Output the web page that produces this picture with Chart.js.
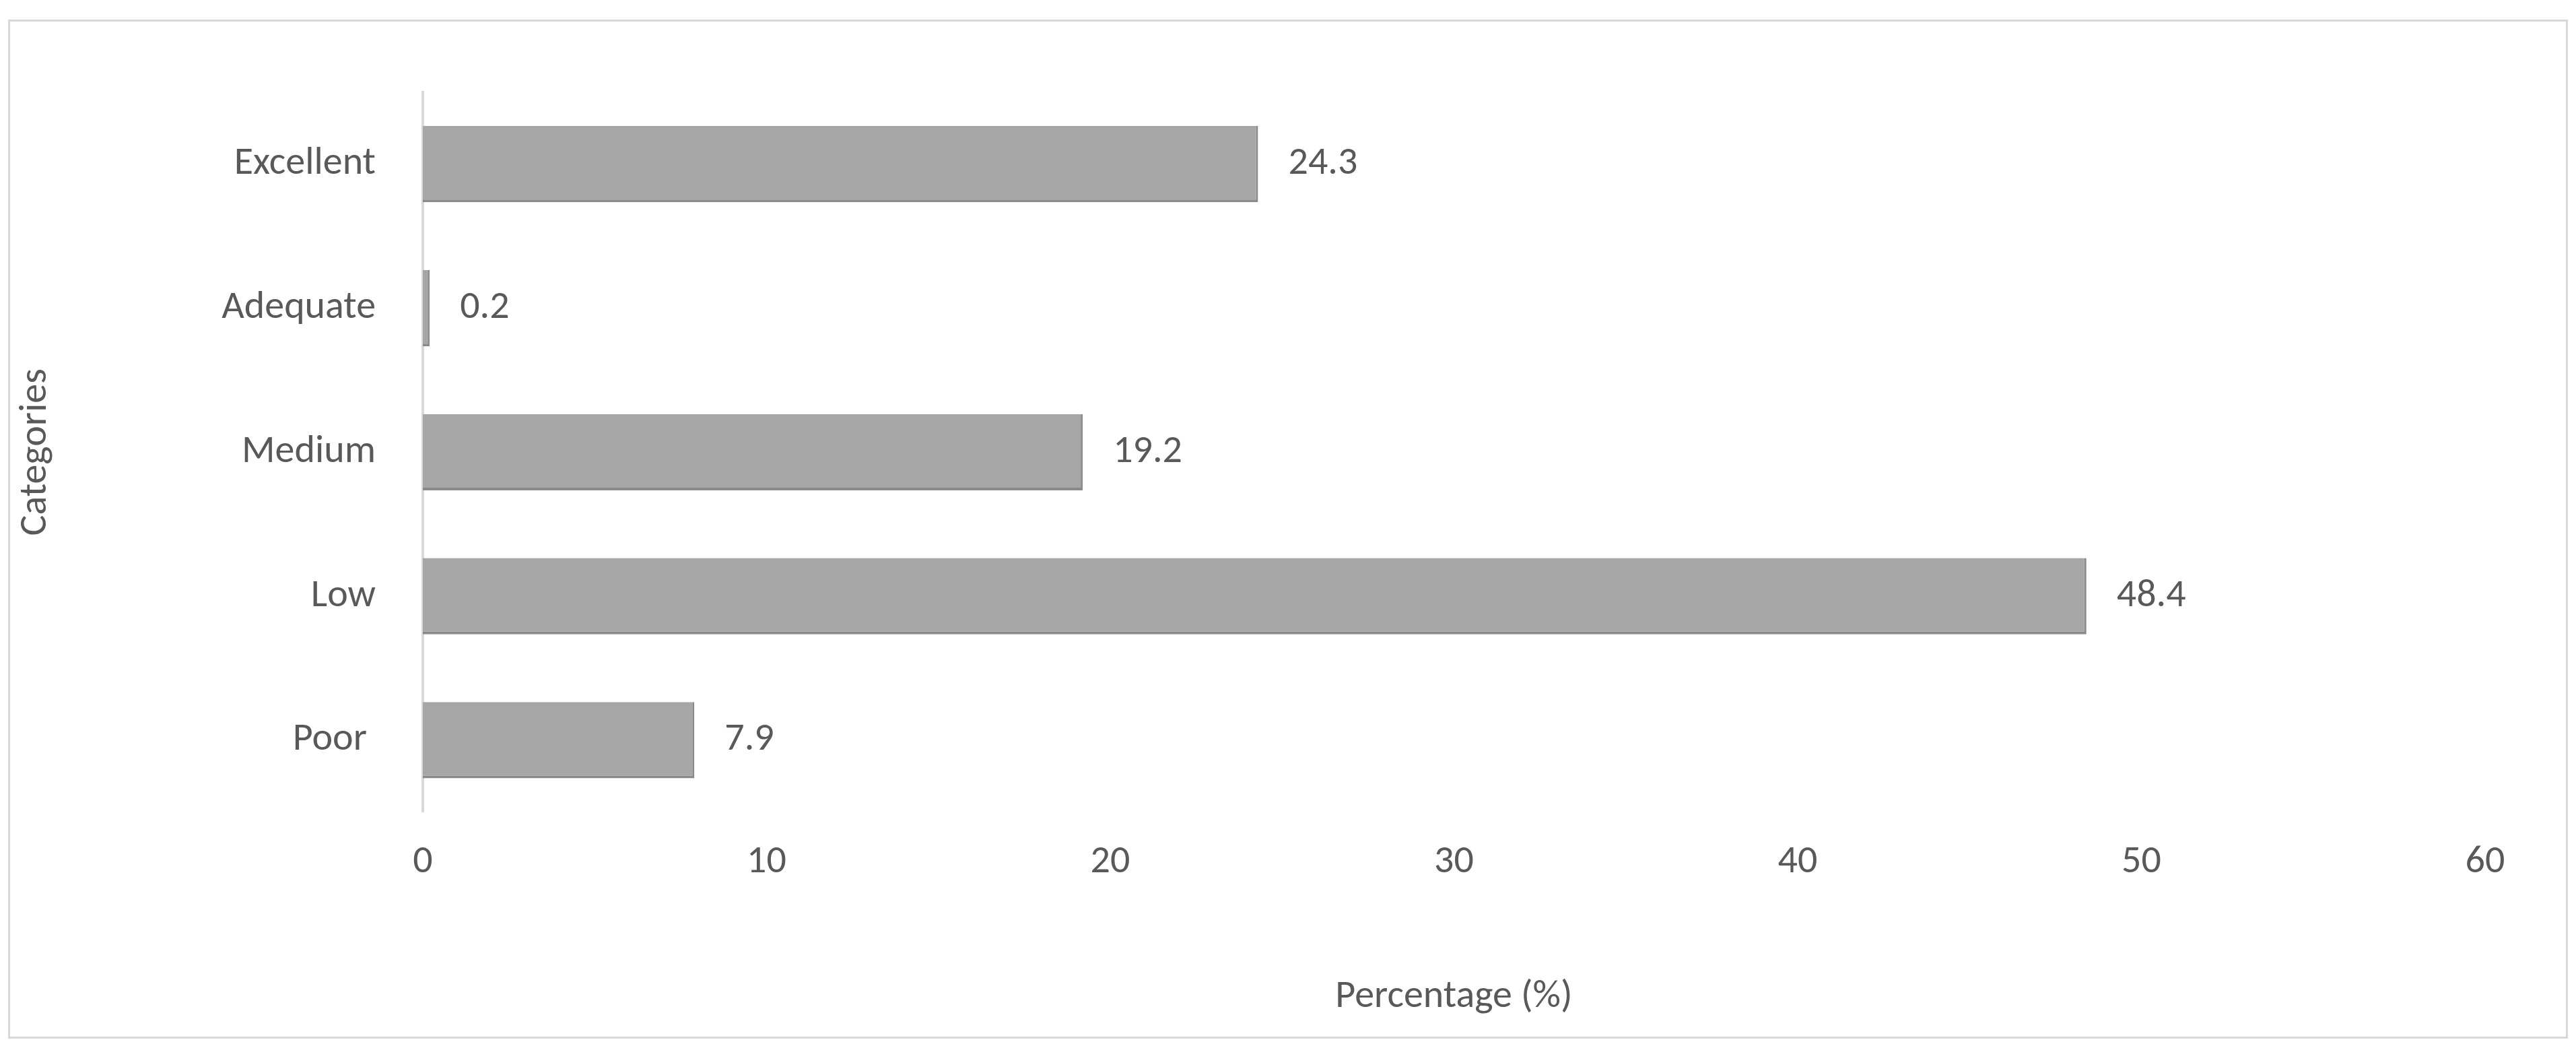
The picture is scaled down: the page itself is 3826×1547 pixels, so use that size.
<!DOCTYPE html>
<html><head><meta charset="utf-8">
<script src="https://cdn.jsdelivr.net/npm/chart.js@4/dist/chart.umd.min.js"></script>
<style>
body{margin:0;background:#fff;width:3826px;height:1547px;overflow:hidden}
#box{position:absolute;left:12px;top:29px;width:3796px;height:1507px;border:3px solid #d9d9d9}
</style></head><body>
<div id="box"><canvas id="c" width="3796" height="1507"></canvas></div>
<script>
const categories = ['Excellent', 'Adequate', 'Medium', 'Low', 'Poor '];
const values = [24.3, 0.2, 19.2, 48.4, 7.9];
const xTitle = 'Percentage (%)';
const yTitle = 'Categories';

// etiquetas de valor al final de cada barra
const valueLabels = {
  id: 'valueLabels',
  afterDatasetsDraw(chart) {
    const ctx = chart.ctx;
    ctx.save();
    ctx.font = '58px Calibri, Carlito, "Open Sans", sans-serif';
    ctx.fillStyle = '#595959';
    ctx.textBaseline = 'middle';
    chart.getDatasetMeta(0).data.forEach((bar, i) => {
      ctx.fillText(values[i].toFixed(1), bar.x + 45, bar.y);
    });
    ctx.restore();
  }
};

new Chart(document.getElementById('c'), {
  type: 'bar',
  data: {
    labels: categories,
    datasets: [{
      data: values,
      backgroundColor: (c) => {
        const el = c.element;
        if (!el || !isFinite(el.y)) return '#a6a6a6';
        const g = c.chart.ctx.createLinearGradient(0, el.y - 55, 0, el.y + 55);
        g.addColorStop(0, '#a0a0a0');
        g.addColorStop(0.5, '#acacac');
        g.addColorStop(1, '#8f8f8f');
        return g;
      },
      borderColor: '#8a8a8a',
      borderWidth: {right: 3, bottom: 4},
      categoryPercentage: 0.53,
      barPercentage: 1
    }]
  },
  options: {
    indexAxis: 'y',
    responsive: false,
    animation: false,
    devicePixelRatio: 1,
    layout: {padding: {top: 93, right: 120, bottom: 20, left: 0}},
    plugins: {legend: {display: false}, tooltip: {enabled: false}},
    scales: {
      x: {
        min: 0, max: 60,
        ticks: {stepSize: 10, color: '#595959', padding: 40,
          font: {size: 58, family: 'Calibri, Carlito, "Open Sans", sans-serif'}},
        grid: {display: false, drawTicks: false},
        border: {display: false},
        title: {display: true, text: xTitle, color: '#595959', padding: {top: 90},
          font: {size: 58, family: 'Calibri, Carlito, "Open Sans", sans-serif'}}
      },
      y: {
        afterFit: (s) => { s.width = 613; },
        ticks: {color: '#595959', padding: 70,
          font: {size: 58, family: 'Calibri, Carlito, "Open Sans", sans-serif'}},
        grid: {display: false, drawTicks: false},
        border: {color: '#d9d9d9', width: 4},
        title: {display: true, text: yTitle, color: '#595959',
          font: {size: 58, family: 'Calibri, Carlito, "Open Sans", sans-serif'}}
      }
    }
  },
  plugins: [valueLabels]
});
</script>
</body></html>
